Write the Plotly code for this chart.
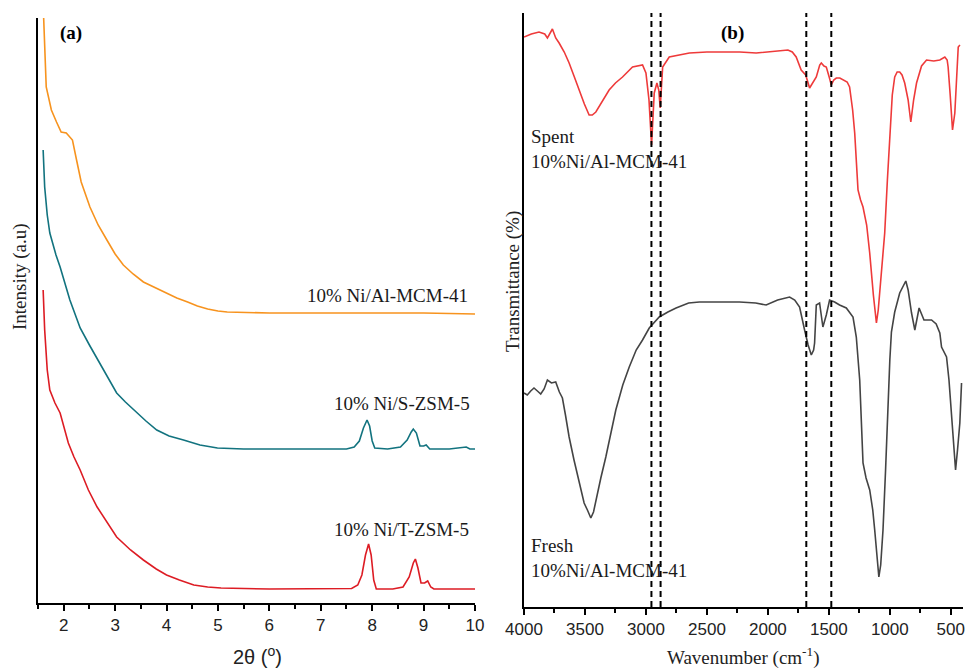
import plotly.graph_objects as go

# ---------------- (a) low-angle XRD patterns (arbitrary intensity units) ----------------
tt_mcm = [1.60, 1.61, 1.66, 1.76, 1.86, 1.95, 2.05, 2.12, 2.17, 2.25, 2.34, 2.51, 2.67, 2.84,
          3.00, 3.16, 3.35, 3.55, 3.80, 4.02, 4.20, 4.41, 4.60, 4.80, 5.00, 5.18, 6.0, 7.0,
          8.0, 9.0, 10.0]
int_mcm = [620, 585, 516, 493, 481, 471, 470, 466, 463, 443, 421, 396, 378, 363,
           349, 338, 329, 321, 315, 310, 305, 301, 297, 294, 292, 291, 290, 290,
           290, 290, 289]

tt_szsm = [1.60, 1.63, 1.68, 1.73, 1.85, 1.93, 2.12, 2.32, 2.50, 2.70, 2.87, 3.03, 3.20, 3.36,
           3.60, 3.81, 4.05, 4.33, 4.65, 4.99, 5.5, 6.5, 7.5, 7.65, 7.75, 7.83, 7.90, 7.95,
           8.00, 8.05, 8.30, 8.55, 8.68, 8.76, 8.80, 8.86, 8.93, 9.00, 9.05, 9.12, 9.5,
           9.83, 9.90, 10.0]
int_szsm = [453, 416, 388, 370, 348, 336, 303, 275, 258, 240, 224, 210, 201, 193,
            182, 173, 167, 163, 158, 155, 154, 154, 154, 156, 162, 175, 183, 177,
            162, 155, 154, 156, 163, 171, 174, 170, 157, 157, 158, 154, 154,
            156, 154, 154]

tt_tzsm = [1.60, 1.63, 1.68, 1.73, 1.83, 1.93, 2.09, 2.20, 2.32, 2.48, 2.65, 2.85, 3.03, 3.30,
           3.55, 3.80, 4.00, 4.25, 4.53, 4.80, 5.06, 6.0, 7.0, 7.60, 7.72, 7.80, 7.87, 7.93,
           7.98, 8.03, 8.08, 8.40, 8.60, 8.72, 8.80, 8.84, 8.89, 8.95, 9.02, 9.08, 9.14,
           9.20, 10.0]
int_tzsm = [313, 273, 233, 213, 200, 190, 160, 146, 133, 113, 96, 80, 66, 53,
            43, 34, 28, 23, 18, 16, 15, 14, 14, 14.5, 18, 28, 48, 59,
            48, 23, 14, 14, 16, 26, 40, 44, 35, 20, 20, 22, 16,
            14, 14]

# ---------------- (b) FTIR spectra (arbitrary transmittance units) ----------------
wn_spent = [4000, 3940, 3877, 3830, 3808, 3767, 3740, 3712, 3670, 3630, 3590, 3548, 3505, 3466,
            3440, 3411, 3350, 3302, 3250, 3192, 3110, 3028, 3000, 2975, 2954, 2940, 2932, 2910,
            2895, 2883, 2873, 2863, 2809, 2700, 2644, 2500, 2370, 2230, 2096, 1950, 1836, 1800,
            1768, 1727, 1690, 1658, 1630, 1603, 1575, 1562, 1540, 1521, 1495, 1480, 1460, 1439,
            1410, 1384, 1350, 1330, 1305, 1288, 1270, 1261, 1240, 1220, 1190, 1165, 1135, 1120,
            1110, 1095, 1070, 1042, 1020, 1001, 980, 960, 940, 919, 900, 878, 850, 828, 805,
            781, 740, 699, 640, 590, 549, 530, 522, 505, 486, 467, 450, 439, 425]
tr_spent = [570, 573, 575, 573, 569, 578, 569, 564, 555, 544, 531, 517, 503, 492,
            492, 495, 507, 517, 524, 530, 540, 542, 534, 507, 462, 492, 514, 524,
            517, 499, 527, 540, 550, 553, 554, 555, 555, 555, 554, 556, 557, 555,
            550, 537, 532, 519, 524, 530, 542, 544, 541, 540, 529, 522, 527, 529,
            529, 527, 525, 520, 497, 474, 437, 417, 407, 400, 382, 354, 312, 292,
            284, 297, 337, 374, 427, 474, 512, 530, 535, 535, 532, 524, 507, 485, 507,
            524, 541, 547, 546, 547, 550, 547, 540, 512, 477, 494, 532, 560, 562]

wn_fresh = [4000, 3973, 3945, 3918, 3890, 3863, 3835, 3808, 3775, 3740, 3710, 3685, 3660, 3630,
            3590, 3548, 3507, 3480, 3452, 3430, 3411, 3370, 3329, 3290, 3247, 3190, 3137, 3080,
            3028, 2973, 2930, 2891, 2820, 2753, 2650, 2562, 2400, 2233, 2100, 2014, 1920, 1822,
            1780, 1740, 1699, 1670, 1644, 1625, 1617, 1603, 1576, 1549, 1521, 1494, 1453, 1412,
            1357, 1302, 1275, 1247, 1220, 1195, 1165, 1140, 1124, 1105, 1090, 1075, 1056, 1035,
            1015, 1000, 987, 960, 919, 890, 869, 850, 822, 795, 760, 720, 658, 620, 590, 576,
            535, 515, 494, 475, 461, 445, 426, 412]
tr_fresh = [214, 212, 216, 219, 216, 213, 218, 227, 224, 225, 215, 209, 192, 170,
            147, 124, 104, 97, 89, 95, 107, 129, 150, 174, 197, 222, 240, 257,
            267, 279, 285, 290, 295, 299, 304, 305, 305, 305, 304, 302, 307, 310,
            307, 300, 277, 262, 252, 257, 264, 302, 304, 280, 292, 307, 305, 302,
            299, 290, 270, 227, 144, 129, 117, 97, 77, 47, 30, 42, 77, 137,
            210, 247, 275, 295, 314, 322, 326, 317, 294, 277, 299, 287, 287, 283, 274, 260,
            250, 227, 194, 157, 137, 157, 184, 224]

# marked band positions (cm-1)
band_lines = [2955, 2880, 1685, 1480]

SERIF = "Liberation Serif"
SANS = "Liberation Sans"

fig = go.Figure()

fig.add_trace(go.Scatter(x=tt_mcm, y=int_mcm, mode="lines", xaxis="x", yaxis="y",
                         line=dict(color="#F7931E", width=1.6), showlegend=False))
fig.add_trace(go.Scatter(x=tt_szsm, y=int_szsm, mode="lines", xaxis="x", yaxis="y",
                         line=dict(color="#12737F", width=1.6), showlegend=False))
fig.add_trace(go.Scatter(x=tt_tzsm, y=int_tzsm, mode="lines", xaxis="x", yaxis="y",
                         line=dict(color="#DD1C24", width=1.6), showlegend=False))

fig.add_trace(go.Scatter(x=wn_spent, y=tr_spent, mode="lines", xaxis="x2", yaxis="y2",
                         line=dict(color="#EE3A3A", width=1.6), showlegend=False))
fig.add_trace(go.Scatter(x=wn_fresh, y=tr_fresh, mode="lines", xaxis="x2", yaxis="y2",
                         line=dict(color="#444444", width=1.6), showlegend=False))

for b in band_lines:
    fig.add_shape(type="line", xref="x2", yref="y2 domain", x0=b, x1=b, y0=0, y1=1,
                  line=dict(color="black", width=2, dash="6px,4px"), layer="above")

tick_font = dict(family=SANS, size=17, color="#222222")
common_x = dict(showline=True, linecolor="black", linewidth=2, ticks="outside",
                ticklen=6, tickwidth=1.5, tickcolor="black", showgrid=False,
                zeroline=False, tickfont=tick_font, automargin=False)
common_y = dict(showline=True, linecolor="black", linewidth=2, ticks="",
                showticklabels=False, showgrid=False, zeroline=False, automargin=False)

fig.update_layout(
    width=965, height=671,
    margin=dict(l=0, r=0, t=0, b=0, autoexpand=False),
    paper_bgcolor="white", plot_bgcolor="white",
    xaxis=dict(domain=[38 / 965, 475 / 965], range=[1.5, 10], dtick=1, tick0=0,
               minor=dict(dtick=0.5, ticks="outside", ticklen=4, tickcolor="black"),
               anchor="y", **common_x),
    yaxis=dict(domain=[1 - 603 / 671, 1 - 18 / 671], range=[0, 585], anchor="x", **common_y),
    xaxis2=dict(domain=[524 / 965, 963 / 965], range=[4000, 400], dtick=500, tick0=0,
                minor=dict(dtick=250, ticks="outside", ticklen=4, tickcolor="black"),
                anchor="y2", **common_x),
    yaxis2=dict(domain=[1 - 607 / 671, 1 - 13 / 671], range=[0, 594], anchor="x2", **common_y),
)

label_font = dict(family=SERIF, size=19, color="#1a1a1a")
title_font = dict(family=SERIF, size=19, color="#222222")
annotations = [
    dict(x=9.9, y=308, xref="x", yref="y", text="10% Ni/Al-MCM-41", xanchor="right",
         yanchor="middle", showarrow=False, font=label_font),
    dict(x=9.95, y=200, xref="x", yref="y", text="10% Ni/S-ZSM-5", xanchor="right",
         yanchor="middle", showarrow=False, font=label_font),
    dict(x=9.93, y=74, xref="x", yref="y", text="10% Ni/T-ZSM-5", xanchor="right",
         yanchor="middle", showarrow=False, font=label_font),
    dict(x=2.15, y=570, xref="x", yref="y", text="<b>(a)</b>", showarrow=False,
         xanchor="center", yanchor="middle", font=dict(family=SERIF, size=19, color="black")),
    dict(x=2291, y=574, xref="x2", yref="y2", text="<b>(b)</b>", showarrow=False,
         xanchor="center", yanchor="middle", font=dict(family=SERIF, size=19, color="black")),
    dict(x=3959, y=457.5, xref="x2", yref="y2", text="Spent<br>10%Ni/Al-MCM-41",
         xanchor="left", yanchor="middle", align="left", showarrow=False, font=label_font),
    dict(x=3959, y=49.5, xref="x2", yref="y2", text="Fresh<br>10%Ni/Al-MCM-41",
         xanchor="left", yanchor="middle", align="left", showarrow=False, font=label_font),
    dict(x=257 / 965, y=0, xref="paper", yref="paper", text="2θ (<sup>o</sup>)",
         xanchor="center", yanchor="bottom", yshift=1, showarrow=False,
         font=dict(family=SANS, size=20, color="#222222")),
    dict(x=743 / 965, y=0, xref="paper", yref="paper",
         text="Wavenumber (cm<sup>-1</sup>)", xanchor="center", yanchor="bottom", yshift=0,
         showarrow=False, font=title_font),
    dict(x=20 / 965, y=1 - 277 / 671, xref="paper", yref="paper", text="Intensity (a.u)",
         textangle=-90, xanchor="center", yanchor="middle", showarrow=False, font=title_font),
    dict(x=513 / 965, y=1 - 282 / 671, xref="paper", yref="paper", text="Transmittance (%)",
         textangle=-90, xanchor="center", yanchor="middle", showarrow=False, font=title_font),
]
fig.update_layout(annotations=annotations)

fig.write_html("out.html", config={"displayModeBar": False})
